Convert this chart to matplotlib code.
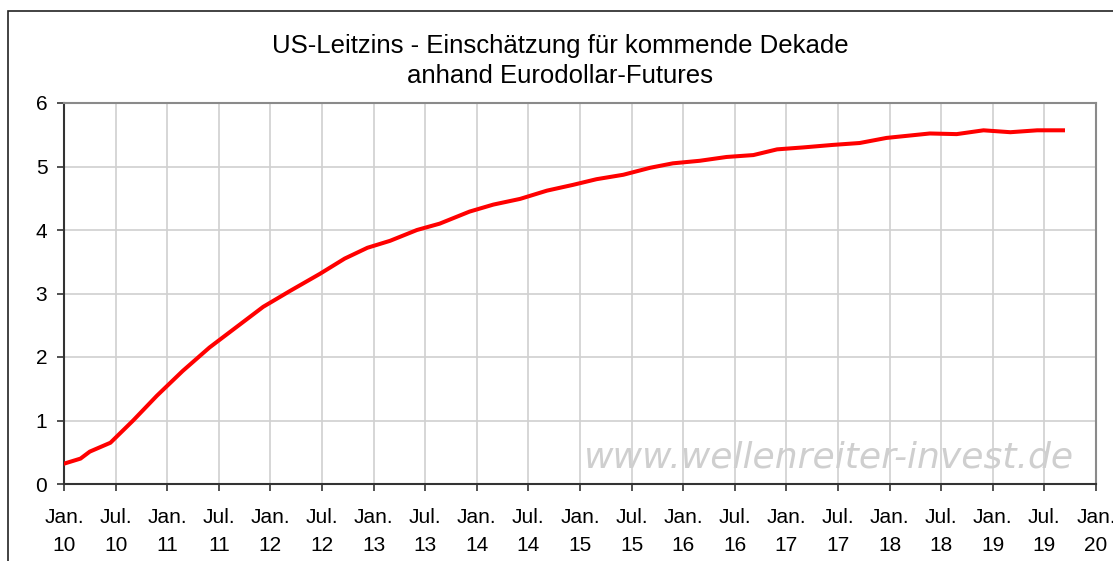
import matplotlib
matplotlib.use('Agg')
import matplotlib.pyplot as plt
from matplotlib.patches import Rectangle

plt.rcParams['font.family'] = ['Liberation Sans', 'DejaVu Sans']

#%% Data
title = 'US-Leitzins - Einschätzung für kommende Dekade\nanhand Eurodollar-Futures'
watermark = 'www.wellenreiter-invest.de'

# time axis in decimal years
dates = [2010.00, 2010.16, 2010.25, 2010.45, 2010.67, 2010.90, 2011.15, 2011.41,
         2011.67, 2011.93, 2012.19, 2012.48, 2012.72, 2012.94, 2013.16, 2013.42,
         2013.64, 2013.93, 2014.16, 2014.42, 2014.68, 2014.93, 2015.16, 2015.42,
         2015.68, 2015.90, 2016.16, 2016.42, 2016.68, 2016.91, 2017.16, 2017.45,
         2017.71, 2017.97, 2018.39, 2018.65, 2018.91, 2019.17, 2019.43, 2019.68]
rates = [0.32, 0.40, 0.51, 0.65, 1.00, 1.39, 1.78, 2.15,
         2.47, 2.79, 3.04, 3.31, 3.55, 3.72, 3.83, 4.00,
         4.10, 4.29, 4.40, 4.49, 4.62, 4.71, 4.80, 4.87,
         4.98, 5.05, 5.09, 5.15, 5.18, 5.27, 5.30, 5.34,
         5.37, 5.45, 5.52, 5.51, 5.57, 5.54, 5.57, 5.57]

xticks = [2010 + 0.5*i for i in range(21)]
xticklabels = ['Jan.\n10', 'Jul.\n10', 'Jan.\n11', 'Jul.\n11', 'Jan.\n12', 'Jul.\n12',
               'Jan.\n13', 'Jul.\n13', 'Jan.\n14', 'Jul.\n14', 'Jan.\n15', 'Jul.\n15',
               'Jan.\n16', 'Jul.\n16', 'Jan.\n17', 'Jul.\n17', 'Jan.\n18', 'Jul.\n18',
               'Jan.\n19', 'Jul.\n19', 'Jan.\n20']
yticks = [0, 1, 2, 3, 4, 5, 6]

#%% Plot
W, H = 1113, 561
fig = plt.figure(figsize=(W/100, H/100), dpi=100)
ax = fig.add_axes([64/W, 1 - 484/H, (1096-64)/W, (484-103)/H])

ax.plot(dates, rates, color='#ff0000', lw=2.9, solid_joinstyle='round', zorder=3)

ax.set_xlim(2010, 2020)
ax.set_ylim(0, 6)
ax.set_xticks(xticks)
ax.set_xticklabels(xticklabels, linespacing=1.6)
ax.set_yticks(yticks)
ax.tick_params(axis='both', labelsize=15, direction='out', length=5,
               width=1.2, color='#333333')
ax.tick_params(axis='x', pad=12)
ax.tick_params(axis='y', pad=7)
ax.grid(True, color='#d0d0d0', lw=1.2)
ax.set_axisbelow(True)

for side in ['left', 'bottom']:
    ax.spines[side].set_color('#333333')
    ax.spines[side].set_linewidth(1.5)
for side in ['top', 'right']:
    ax.spines[side].set_color('#8a8a8a')
    ax.spines[side].set_linewidth(1.5)

# watermark
ax.text(1074/W, 1 - 467/H, watermark, transform=fig.transFigure,
        ha='right', va='baseline', fontsize=26, style='italic',
        family='DejaVu Sans', color='#cfcfcf', zorder=0.2)

# title
fig.text(560/W, 1 - 61/H, title, ha='center', va='center',
         fontsize=18.5, linespacing=1.3, color='black')

# outer frame of the chart area
fig.add_artist(Rectangle((8/W, -0.5), 2, 1.5 - 11/H, transform=fig.transFigure,
                         fill=False, ec='#222222', lw=1.2, clip_on=False))

fig.savefig('out.png', dpi=100)
